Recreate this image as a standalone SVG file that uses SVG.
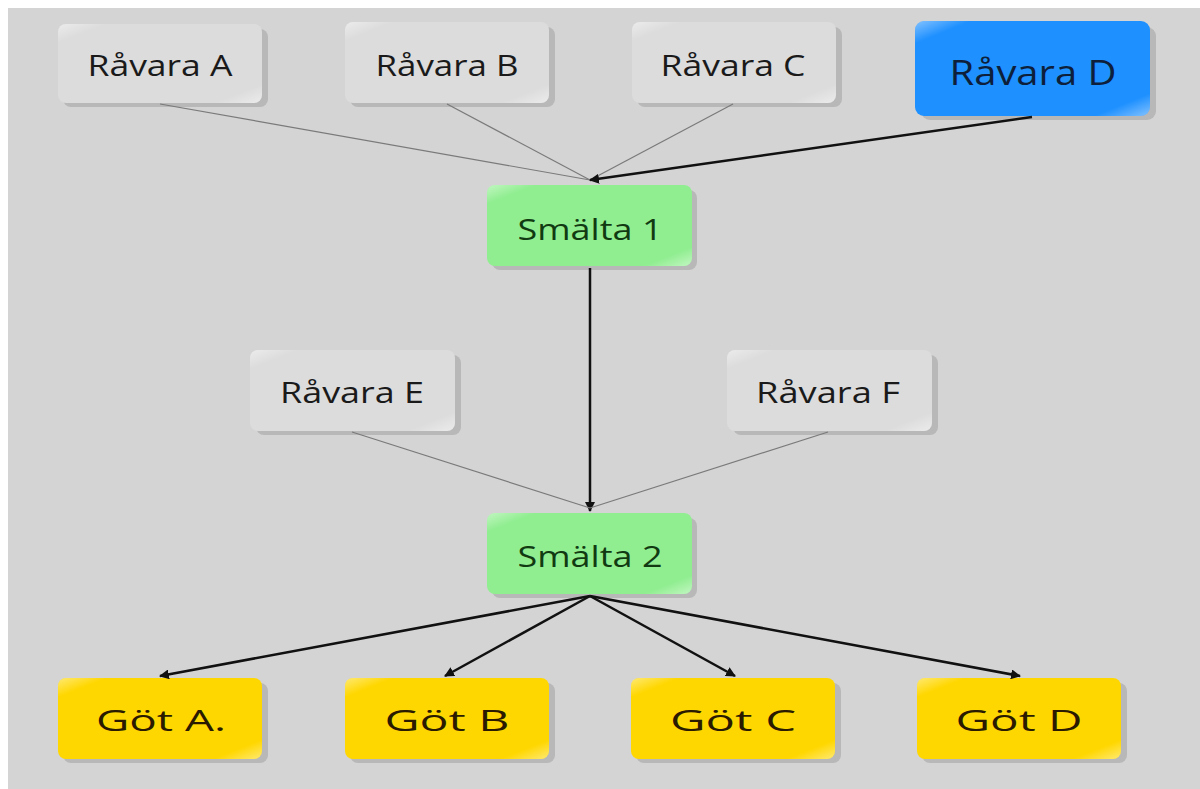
<svg xmlns="http://www.w3.org/2000/svg" width="1200" height="789" viewBox="0 0 1200 789">
<defs>
<style>
.sh{fill:#b8b8b8;}
.raw{fill:#dcdcdc;}
.blue{fill:#1e90ff;}
.green{fill:#90ee90;}
.gold{fill:#ffd700;}
.t{font-family:"Open Sans","Noto Sans","Liberation Sans",sans-serif;font-size:30px;text-anchor:middle;fill:#1a1a1a;}
.thin{stroke:#7a7a7a;stroke-width:1.2;fill:none;}
.thick{stroke:#111;stroke-width:2.5;fill:none;}
</style>
<marker id="ah" viewBox="0 0 10 10" refX="9" refY="5" markerWidth="4" markerHeight="4" orient="auto" markerUnits="strokeWidth">
<path d="M0,0 L10,5 L0,10 z" fill="#111"/>
</marker>
<linearGradient id="gl" x1="0" y1="0" x2="1" y2="1">
<stop offset="0" stop-color="#fff" stop-opacity="0.45"/>
<stop offset="0.12" stop-color="#fff" stop-opacity="0"/>
<stop offset="0.88" stop-color="#fff" stop-opacity="0"/>
<stop offset="1" stop-color="#fff" stop-opacity="0.45"/>
</linearGradient>
</defs>
<rect x="0" y="0" width="1200" height="789" fill="#ffffff"/>
<rect x="8" y="8" width="1192" height="781" fill="#d4d4d4"/>

<g id="ravara-a">
<rect class="sh" x="63" y="29" width="205" height="78" rx="8"/>
<rect class="raw" x="58" y="24" width="204" height="79" rx="8"/>
<rect x="58" y="24" width="204" height="79" rx="8" fill="url(#gl)"/>
<text class="t" x="160" y="76" textLength="145" lengthAdjust="spacingAndGlyphs">Råvara A</text>
</g>
<g id="ravara-b">
<rect class="sh" x="350" y="27" width="205" height="80" rx="8"/>
<rect class="raw" x="345" y="22" width="204" height="81" rx="8"/>
<rect x="345" y="22" width="204" height="81" rx="8" fill="url(#gl)"/>
<text class="t" x="447" y="76" textLength="143" lengthAdjust="spacingAndGlyphs">Råvara B</text>
</g>
<g id="ravara-c">
<rect class="sh" x="637" y="27" width="205" height="80" rx="8"/>
<rect class="raw" x="632" y="22" width="204" height="81" rx="8"/>
<rect x="632" y="22" width="204" height="81" rx="8" fill="url(#gl)"/>
<text class="t" x="733" y="76" textLength="145" lengthAdjust="spacingAndGlyphs">Råvara C</text>
</g>
<g id="ravara-d">
<rect class="sh" x="921" y="27" width="235" height="93" rx="9"/>
<rect class="blue" x="915" y="21" width="235" height="95" rx="9"/>
<rect x="915" y="21" width="235" height="95" rx="9" fill="url(#gl)"/>
<text class="t" x="1033" y="85" style="font-size:34px;fill:#0d1f3a" textLength="167" lengthAdjust="spacingAndGlyphs">Råvara D</text>
</g>
<g id="smalta-1">
<rect class="sh" x="492" y="190" width="205" height="80" rx="8"/>
<rect class="green" x="487" y="185" width="205" height="81" rx="8"/>
<rect x="487" y="185" width="205" height="81" rx="8" fill="url(#gl)"/>
<text class="t" x="590" y="240" style="fill:#123a12" textLength="145" lengthAdjust="spacingAndGlyphs">Smälta 1</text>
</g>
<g id="ravara-e">
<rect class="sh" x="256" y="355" width="205" height="80" rx="8"/>
<rect class="raw" x="250" y="350" width="205" height="81" rx="8"/>
<rect x="250" y="350" width="205" height="81" rx="8" fill="url(#gl)"/>
<text class="t" x="352" y="403" textLength="144" lengthAdjust="spacingAndGlyphs">Råvara E</text>
</g>
<g id="ravara-f">
<rect class="sh" x="733" y="355" width="205" height="80" rx="8"/>
<rect class="raw" x="727" y="350" width="205" height="81" rx="8"/>
<rect x="727" y="350" width="205" height="81" rx="8" fill="url(#gl)"/>
<text class="t" x="828" y="403" textLength="144" lengthAdjust="spacingAndGlyphs">Råvara F</text>
</g>
<g id="smalta-2">
<rect class="sh" x="492" y="518" width="205" height="80" rx="8"/>
<rect class="green" x="487" y="513" width="205" height="81" rx="8"/>
<rect x="487" y="513" width="205" height="81" rx="8" fill="url(#gl)"/>
<text class="t" x="590" y="567" style="fill:#123a12" textLength="145" lengthAdjust="spacingAndGlyphs">Smälta 2</text>
</g>
<g id="got-a">
<rect class="sh" x="63" y="683" width="205" height="80" rx="8"/>
<rect class="gold" x="58" y="678" width="204" height="81" rx="8"/>
<rect x="58" y="678" width="204" height="81" rx="8" fill="url(#gl)"/>
<text class="t" x="161" y="731" style="fill:#2a1a00" textLength="130" lengthAdjust="spacingAndGlyphs">Göt A.</text>
</g>
<g id="got-b">
<rect class="sh" x="350" y="683" width="205" height="80" rx="8"/>
<rect class="gold" x="345" y="678" width="204" height="81" rx="8"/>
<rect x="345" y="678" width="204" height="81" rx="8" fill="url(#gl)"/>
<text class="t" x="447" y="731" style="fill:#2a1a00" textLength="125" lengthAdjust="spacingAndGlyphs">Göt B</text>
</g>
<g id="got-c">
<rect class="sh" x="636" y="683" width="205" height="80" rx="8"/>
<rect class="gold" x="631" y="678" width="204" height="81" rx="8"/>
<rect x="631" y="678" width="204" height="81" rx="8" fill="url(#gl)"/>
<text class="t" x="733" y="731" style="fill:#2a1a00" textLength="126" lengthAdjust="spacingAndGlyphs">Göt C</text>
</g>
<g id="got-d">
<rect class="sh" x="922" y="683" width="205" height="80" rx="8"/>
<rect class="gold" x="917" y="678" width="204" height="81" rx="8"/>
<rect x="917" y="678" width="204" height="81" rx="8" fill="url(#gl)"/>
<text class="t" x="1019" y="731" style="fill:#2a1a00" textLength="127" lengthAdjust="spacingAndGlyphs">Göt D</text>
</g>

<g id="connectors">
<line class="thin" x1="160" y1="104" x2="590" y2="180"/>
<line class="thin" x1="447" y1="104" x2="590" y2="180"/>
<line class="thin" x1="733" y1="104" x2="590" y2="180"/>
<line class="thick" x1="1032" y1="117" x2="590" y2="180" marker-end="url(#ah)"/>
<line class="thick" x1="590" y1="268" x2="590" y2="511" marker-end="url(#ah)"/>
<line class="thin" x1="352" y1="432" x2="590" y2="508"/>
<line class="thin" x1="828" y1="432" x2="590" y2="508"/>
<line class="thick" x1="590" y1="596" x2="160" y2="676" marker-end="url(#ah)"/>
<line class="thick" x1="590" y1="596" x2="445" y2="676" marker-end="url(#ah)"/>
<line class="thick" x1="590" y1="596" x2="735" y2="676" marker-end="url(#ah)"/>
<line class="thick" x1="590" y1="596" x2="1020" y2="676" marker-end="url(#ah)"/>
</g>
</svg>
